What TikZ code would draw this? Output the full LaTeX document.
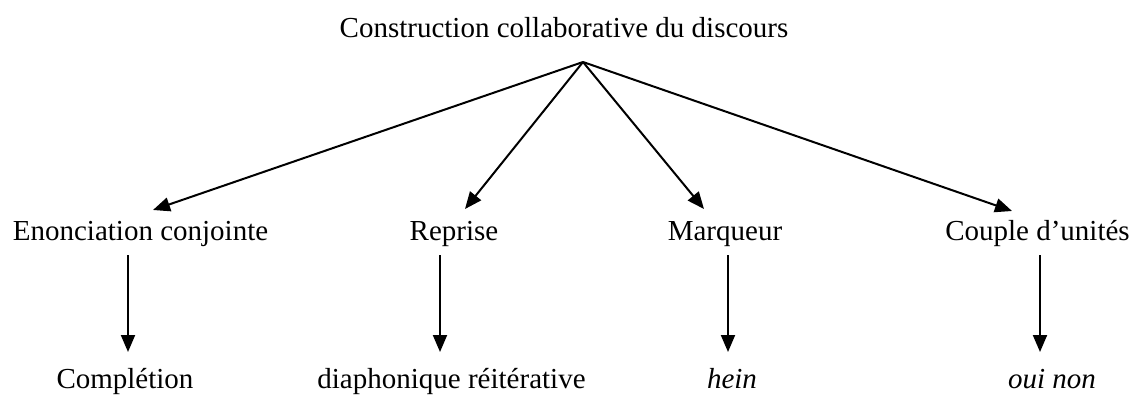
\documentclass[tikz,border=0pt]{standalone}
\usepackage{fontspec}
\setmainfont{Liberation Serif}
\usetikzlibrary{arrows.meta}
\begin{document}
\begin{tikzpicture}[x=1pt,y=-1pt,
  lbl/.style={anchor=base,inner sep=0pt,font=\fontsize{29}{34}\selectfont},
  conn/.style={line width=2pt,-{Triangle[length=17pt,width=14pt]}}]
\useasboundingbox (0,0) rectangle (1133,396);
\node[lbl] (title) at (564,38) {Construction collaborative du discours};
\coordinate (apex) at (583,62);
\node[lbl] (e1) at (140.5,240) {Enonciation conjointe};
\node[lbl] (e2) at (454,240) {Reprise};
\node[lbl] (e3) at (725,240) {Marqueur};
\node[lbl] (e4) at (1037.5,240) {Couple d’unités};
\coordinate (t1) at (153,210);
\coordinate (t2) at (465,209);
\coordinate (t3) at (704,209);
\coordinate (t4) at (1012,211);
\draw[conn] (apex) -- (t1);
\draw[conn] (apex) -- (t2);
\draw[conn] (apex) -- (t3);
\draw[conn] (apex) -- (t4);
\node[lbl] (b1) at (125,388) {Complétion};
\node[lbl] (b2) at (451.5,388) {diaphonique réitérative};
\node[lbl] (b3) at (732,388) {\itshape hein};
\node[lbl] (b4) at (1052,388) {\itshape oui non};
\coordinate (s1) at (128,255); \coordinate (u1) at (128,352);
\coordinate (s2) at (440,255); \coordinate (u2) at (440,352);
\coordinate (s3) at (728,255); \coordinate (u3) at (728,352);
\coordinate (s4) at (1040,255); \coordinate (u4) at (1040,352);
\draw[conn] (s1) -- (u1);
\draw[conn] (s2) -- (u2);
\draw[conn] (s3) -- (u3);
\draw[conn] (s4) -- (u4);
\end{tikzpicture}
\end{document}
